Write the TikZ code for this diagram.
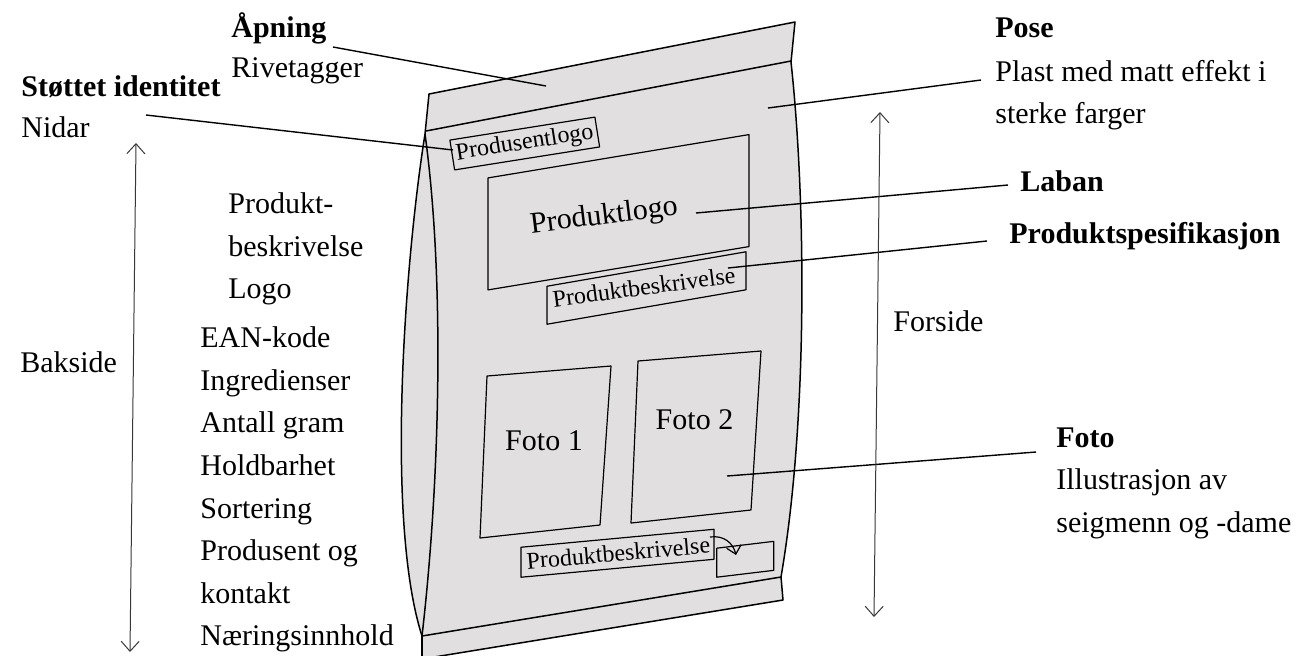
\documentclass[tikz,border=0pt]{standalone}
\usepackage{fontspec}
\setmainfont{Liberation Serif}
\usetikzlibrary{arrows.meta}
\definecolor{bagfill}{RGB}{226,223,224}
\definecolor{dimline}{RGB}{55,55,55}

\begin{document}
\begin{tikzpicture}[x=0.5pt,y=-0.5pt,
  lbl/.style={anchor=base west, inner sep=0, font=\fontsize{15}{18}\selectfont},
  head/.style={lbl, font=\fontsize{15}{18}\selectfont\bfseries},
  boxtext/.style={inner sep=0, font=\fontsize{12}{14}\selectfont},
  bigtext/.style={inner sep=0, font=\fontsize{15}{18}\selectfont},
  box/.style={draw, line width=0.6pt, inner sep=0, line join=round},
  outline/.style={line width=0.75pt, line join=round},
  leader/.style={line width=0.7pt},
  dim/.style={draw=dimline, line width=0.5pt,
    >={Straight Barb[length=5pt,width=9pt]}, <->},
]
\useasboundingbox (0,0) rectangle (1300,655);
\clip (0,0) rectangle (1300,655);

% ---- bag body ----
\fill[bagfill] (429,94) -- (795,22) -- (791,62)
  .. controls (806,200) and (808,420) .. (781,577)
  -- (783,600) -- (422,659) -- (422,636)
  .. controls (385,520) and (405,260) .. (425,134) -- cycle;

% outer contour
\draw[outline] (425,134) -- (429,94) -- (795,22) -- (791,62)
  .. controls (806,200) and (808,420) .. (781,577) -- (783,600) -- (422,659);
% top seal
\draw[outline] (426,131) -- (791,61);
% bottom seal
\draw[outline] (422,636) -- (781,577);
\draw[outline] (422,636) -- (422,665);
% side gusset
\draw[outline] (425,134) .. controls (405,260) and (385,520) .. (422,636);
\draw[outline] (425,134) .. controls (445,280) and (440,480) .. (422,636);

% ---- printed fields on the front ----
\node[box, boxtext, rotate=9, minimum width=73.4pt, minimum height=15.1pt]
  (plogo) at (524.75,143.5) {Produsentlogo};

\node[box, yslant=0.166, minimum width=130.5pt, minimum height=56pt]
  (logobox) at (618.5,212.25) {};
\node[bigtext, rotate=7, anchor=base] (logotext) at (605,224) {Produktlogo};

\node[box, yslant=0.173, minimum width=99.5pt, minimum height=19pt]
  (descbox) at (646.5,288) {};
\node[boxtext, rotate=7.5, anchor=base] (desctext) at (645,295) {Produktbeskrivelse};

\draw[box] (487,376) -- (611,366) -- (600,525) -- (480,538) -- cycle;
\node[bigtext, anchor=base] (foto1) at (544,450) {Foto 1};

\draw[box] (638,361) -- (761,351) -- (751,510) -- (631,523) -- cycle;
\node[bigtext, anchor=base] (foto2) at (694.5,429) {Foto 2};

\node[box, yslant=0.093, minimum width=96.5pt, minimum height=15pt]
  (lowbox) at (617.5,553.25) {};
\node[boxtext, rotate=5, anchor=base] (lowtext) at (619,561) {Produktbeskrivelse};

\node[box, yslant=0.12, minimum width=28.5pt, minimum height=14.5pt]
  (smallbox) at (745.25,559.25) {};

\coordinate (flipA) at (710,537);
\coordinate (flipB) at (736,555);
\draw[line width=0.6pt, -{Straight Barb[length=4pt,width=7.5pt]}]
  (flipA) .. controls (724,535) and (733,543) .. (flipB);

% ---- labels ----
\node[head] (apning) at (231,37) {Åpning};
\node[lbl] (rive) at (231,77) {Rivetagger};
\node[head] (stottet) at (21,96) {Støttet identitet};
\node[lbl] (nidar) at (21,137) {Nidar};
\node[head] (pose) at (995,37) {Pose};
\node[lbl] (plast) at (995,81) {Plast med matt effekt i};
\node[lbl] (sterke) at (995,123) {sterke farger};
\node[head] (laban) at (1020,191) {Laban};
\node[head] (pspes) at (1009,243) {Produktspesifikasjon};
\node[lbl] (forside) at (893,331) {Forside};
\node[head] (foto) at (1056,447) {Foto};
\node[lbl] (illu) at (1056,489) {Illustrasjon av};
\node[lbl] (seig) at (1056,532) {seigmenn og -dame};
\node[lbl] (bakside) at (20,372) {Bakside};

\node[lbl] (b1) at (228,213) {Produkt-};
\node[lbl] (b2) at (228,256) {beskrivelse};
\node[lbl] (b3) at (228,298) {Logo};
\node[lbl] (b4) at (200,347) {EAN-kode};
\node[lbl] (b5) at (200,390) {Ingredienser};
\node[lbl] (b6) at (200,432) {Antall gram};
\node[lbl] (b7) at (200,475) {Holdbarhet};
\node[lbl] (b8) at (200,518) {Sortering};
\node[lbl] (b9) at (200,560) {Produsent og};
\node[lbl] (b10) at (200,603) {kontakt};
\node[lbl] (b11) at (200,645) {Næringsinnhold};

% ---- leader lines ----
\coordinate (apA) at (333,47);   \coordinate (apB) at (546,86);
\coordinate (stA) at (146,115);  \coordinate (stB) at (453,150);
\coordinate (poA) at (768,108);  \coordinate (poB) at (981,80);
\coordinate (laA) at (696,213);  \coordinate (laB) at (1008,185);
\coordinate (psA) at (728,268);  \coordinate (psB) at (987,241);
\coordinate (foA) at (727,476);  \coordinate (foB) at (1036,452);
\draw[leader] (apA) -- (apB);
\draw[leader] (stA) -- (stB);
\draw[leader] (poA) -- (poB);
\draw[leader] (laA) -- (laB);
\draw[leader] (psA) -- (psB);
\draw[leader] (foA) -- (foB);

% ---- extent arrows ----
\coordinate (backTop) at (136,143);  \coordinate (backBot) at (130,652);
\coordinate (frontTop) at (880,112); \coordinate (frontBot) at (874,617);
\draw[dim] (backTop) -- (backBot);
\draw[dim] (frontTop) -- (frontBot);
\end{tikzpicture}
\end{document}
